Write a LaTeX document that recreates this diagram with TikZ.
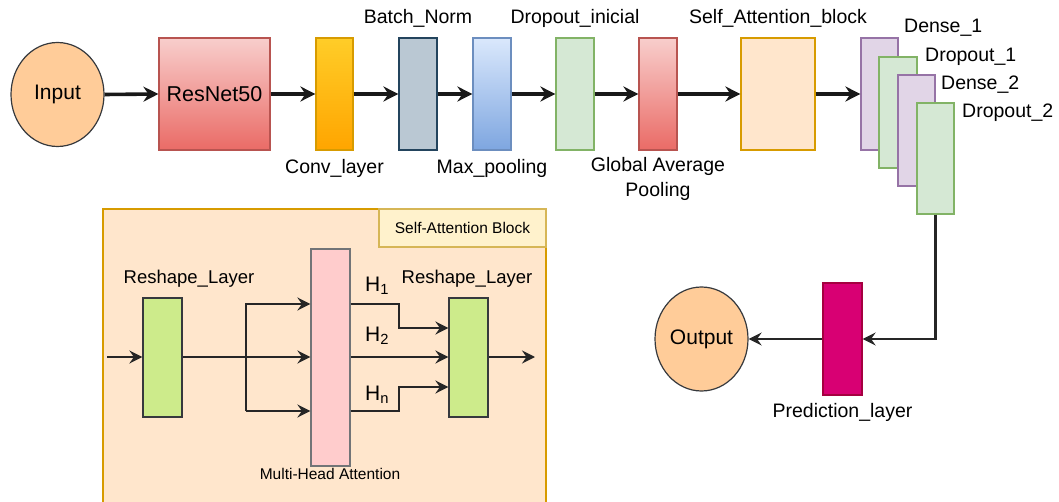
\documentclass[tikz,border=0pt]{standalone}
\usepackage{fontspec}
\setmainfont{Liberation Sans}
\usetikzlibrary{shapes.geometric,arrows.meta,calc}
\definecolor{cInF}{HTML}{FFCC99}
\definecolor{cDark}{HTML}{36393D}
\definecolor{cRedT}{HTML}{F8CECC}
\definecolor{cRedB}{HTML}{EA6B66}
\definecolor{cRedS}{HTML}{B85450}
\definecolor{cOrT}{HTML}{FFCD28}
\definecolor{cOrB}{HTML}{FFA500}
\definecolor{cOrS}{HTML}{D79B00}
\definecolor{cBnF}{HTML}{BAC8D3}
\definecolor{cBnS}{HTML}{23445D}
\definecolor{cBlT}{HTML}{DAE8FC}
\definecolor{cBlB}{HTML}{7EA6E0}
\definecolor{cBlS}{HTML}{6C8EBF}
\definecolor{cGrF}{HTML}{D5E8D4}
\definecolor{cGrS}{HTML}{82B366}
\definecolor{cSaF}{HTML}{FFE6CC}
\definecolor{cPuF}{HTML}{E1D5E7}
\definecolor{cPuS}{HTML}{9673A6}
\definecolor{cPrF}{HTML}{D80073}
\definecolor{cPrS}{HTML}{A50040}
\definecolor{cTiF}{HTML}{FFF2CC}
\definecolor{cTiS}{HTML}{D6B656}
\definecolor{cRsF}{HTML}{CDEB8B}
\definecolor{cMhF}{HTML}{FFCCCC}
\tikzset{
  lay/.style={rectangle, inner sep=0pt, line width=1.2pt},
  thin/.style={lay, minimum width=38pt, minimum height=112pt},
  circ/.style={ellipse, draw=cDark, fill=cInF, line width=1.2pt, minimum width=93pt, minimum height=104pt, inner sep=0pt, font=\fontsize{21}{24}\selectfont},
  lbl/.style={inner sep=0pt, font=\fontsize{19.5}{25}\selectfont, align=center},
  rlbl/.style={inner sep=0pt, font=\fontsize{18.5}{22}\selectfont},
  slbl/.style={inner sep=0pt, font=\fontsize{15.5}{18}\selectfont},
  hlbl/.style={inner sep=0pt, font=\fontsize{21}{24}\selectfont},
  arr/.style={-{Stealth[length=15pt,width=15pt,inset=5pt]}, line width=3.6pt, draw=black!90},
  arrb/.style={-{Stealth[length=13pt,width=13pt,inset=4.5pt]}, line width=2.1pt, draw=black!85},
}
\begin{document}
\begin{tikzpicture}[x={(1pt,0)}, y={(0,-1pt)}]
\useasboundingbox (0,0) rectangle (1059,502);
% ---- top row
\node[circ] (inp) at (57.5,94.5) {Input};
\node[lay, minimum width=111pt, minimum height=112pt, top color=cRedT, bottom color=cRedB, draw=cRedS, font=\fontsize{21.5}{24}\selectfont] (res) at (214.5,94) {ResNet50};
\node[thin, minimum width=37pt, top color=cOrT, bottom color=cOrB, draw=cOrS] (conv) at (334.5,94) {};
\node[thin, fill=cBnF, draw=cBnS] (bn) at (418,94) {};
\node[thin, top color=cBlT, bottom color=cBlB, draw=cBlS] (mp) at (492,94) {};
\node[thin, fill=cGrF, draw=cGrS] (di) at (575,94) {};
\node[thin, top color=cRedT, bottom color=cRedB, draw=cRedS] (gap) at (658,94) {};
\node[thin, minimum width=74pt, fill=cSaF, draw=cOrS] (sab) at (778,94) {};
\node[thin, minimum width=37pt, fill=cPuF, draw=cPuS] (d1) at (879.5,94) {};
\node[thin, minimum height=111pt, fill=cGrF, draw=cGrS] (do1) at (898,112.5) {};
\node[thin, minimum width=37pt, minimum height=111pt, fill=cPuF, draw=cPuS] (d2) at (916.5,130.5) {};
\node[thin, minimum width=37pt, minimum height=111pt, fill=cGrF, draw=cGrS] (do2) at (935.5,158.5) {};
% labels
\node[lbl] at ($(conv.south)+(0,18)$) {Conv\_layer};
\node[lbl] at ($(bn.north)+(0,-19)$) {Batch\_Norm};
\node[lbl] at ($(mp.south)+(0,18)$) {Max\_pooling};
\node[lbl] at ($(di.north)+(0,-19)$) {Dropout\_inicial};
\node[lbl] at ($(gap.south)+(0,28)$) {Global Average\\Pooling};
\node[lbl] at ($(sab.north)+(0,-19)$) {Self\_Attention\_block};
\node[lbl, anchor=west] at (904,28) {Dense\_1};
\node[lbl, anchor=west] at (925,57) {Dropout\_1};
\node[lbl, anchor=west] at (941,85) {Dense\_2};
\node[lbl, anchor=west] at (962,113) {Dropout\_2};
% arrows
\draw[arr] (inp.east) -- (res.west);
\draw[arr] (res.east) -- (conv.west);
\draw[arr] (conv.east) -- (bn.west);
\draw[arr] (bn.east) -- (mp.west);
\draw[arr] (mp.east) -- (di.west);
\draw[arr] (di.east) -- (gap.west);
\draw[arr] (gap.east) -- (sab.west);
\draw[arr] (sab.east) -- (d1.west);
% ---- output part
\node[lay, minimum width=39pt, minimum height=112pt, fill=cPrF, draw=cPrS] (pred) at (842.5,339) {};
\node[circ] (out) at (701.5,339) {Output};
\node[lbl] at ($(pred.south)+(0,17)$) {Prediction\_layer};
\draw[arrb] (do2.south) |- (pred.east);
\draw[arrb] (pred.west) -- (out.east);
% ---- self-attention block
\draw[draw=cOrS, fill=cSaF, line width=1.2pt] (103,209) rectangle (546,520);
\node[lay, minimum width=167pt, minimum height=38pt, fill=cTiF, draw=cTiS, font=\fontsize{15.5}{18}\selectfont] (title) at (462.5,228) {Self-Attention Block};
\node[lay, minimum width=39pt, minimum height=119pt, fill=cRsF, draw=cDark] (rs1) at (162.5,357.5) {};
\node[lay, minimum width=39pt, minimum height=217pt, fill=cMhF, draw=cDark!70] (mha) at (330.5,357.5) {};
\node[lay, minimum width=39pt, minimum height=119pt, fill=cRsF, draw=cDark] (rs2) at (468.5,357.5) {};
\node[rlbl] at (189,279) {Reshape\_Layer};
\node[rlbl] at (467,279) {Reshape\_Layer};
\node[slbl] at (330,474) {Multi-Head Attention};
\coordinate (inA) at (107,357);
\coordinate (outA) at (535,357);
\coordinate (b1) at (246,304);
\coordinate (b3) at (246,411);
\coordinate (h1a) at (399,304);
\coordinate (h1b) at (399,328);
\coordinate (hna) at (399,411);
\coordinate (hnb) at (399,387);
\draw[arrb] (inA) -- (rs1.west |- inA);
\draw[arrb] (rs1.east |- inA) -- (mha.west |- inA);
\draw[arrb] (b3) -- (b1) -- (mha.west |- b1);
\draw[arrb] (b3) -- (mha.west |- b3);
\draw[arrb] (mha.east |- h1a) -- (h1a) -- (h1b) -- (rs2.west |- h1b);
\draw[arrb] (mha.east |- inA) -- (rs2.west |- inA);
\draw[arrb] (mha.east |- hna) -- (hna) -- (hnb) -- (rs2.west |- hnb);
\draw[arrb] (rs2.east |- inA) -- (outA);
\node[hlbl] at (377,286) {H\textsubscript{1}};
\node[hlbl] at (377,336) {H\textsubscript{2}};
\node[hlbl] at (377,395) {H\textsubscript{n}};
\end{tikzpicture}
\end{document}
